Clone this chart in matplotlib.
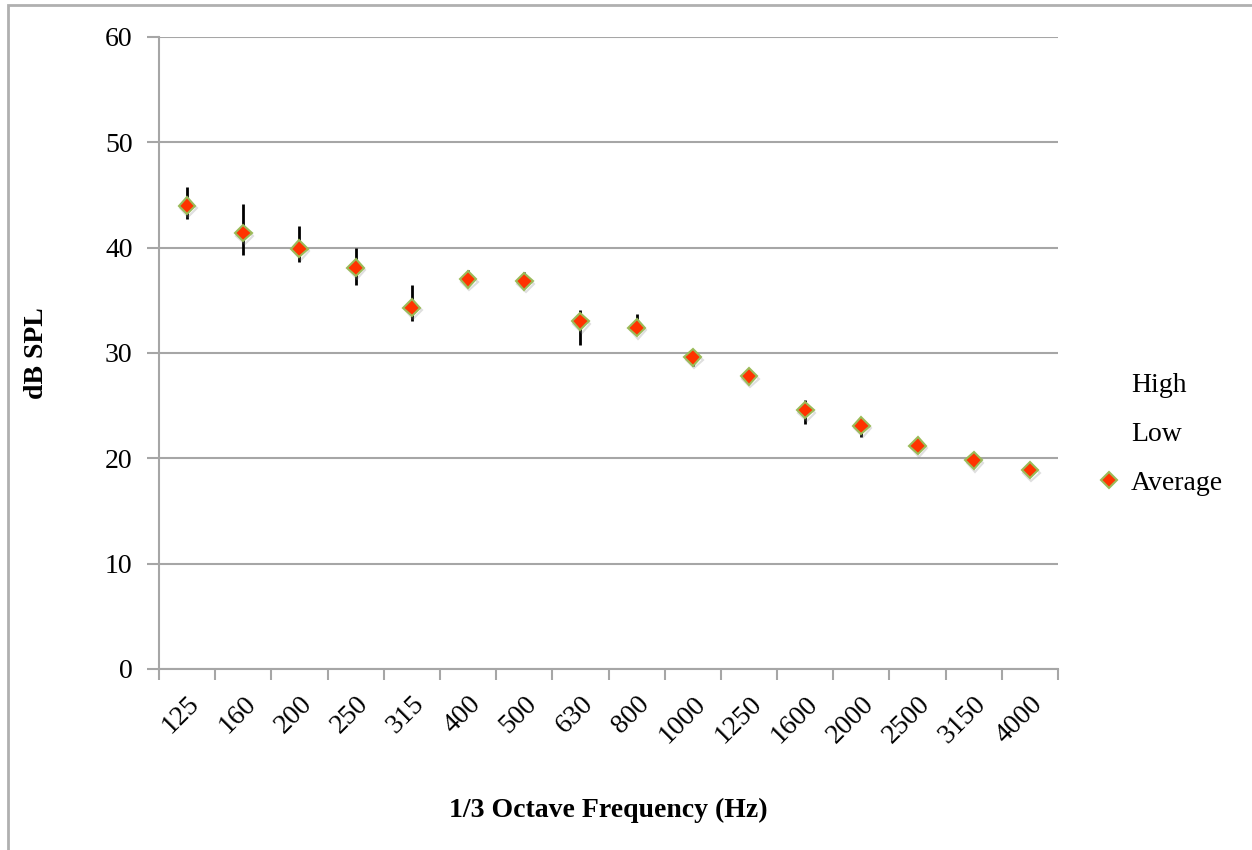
import matplotlib.pyplot as plt
import matplotlib.patheffects as pe
from matplotlib.lines import Line2D
from matplotlib.patches import Rectangle

# 1/3 octave band centre frequencies
freqs = ["125", "160", "200", "250", "315", "400", "500", "630",
         "800", "1000", "1250", "1600", "2000", "2500", "3150", "4000"]
average = [44.0, 41.4, 39.9, 38.1, 34.3, 37.0, 36.8, 33.0,
           32.4, 29.6, 27.8, 24.6, 23.1, 21.2, 19.8, 18.9]
high = [45.8, 44.1, 42.1, 40.0, 36.5, 37.9, 37.7, 34.1,
        33.7, 30.0, 28.1, 25.5, 23.8, 21.5, 20.1, 19.2]
low = [42.7, 39.3, 38.6, 36.5, 33.0, 36.6, 36.4, 30.8,
       31.9, 28.8, 27.5, 23.3, 22.0, 20.9, 19.5, 18.6]

plt.rcParams["font.family"] = ["Liberation Serif", "DejaVu Serif"]
plt.rcParams["font.size"] = 20

fig = plt.figure(figsize=(12.52, 8.5), dpi=100)
fig.patches.append(Rectangle((8 / 1252, -0.1), 1.2, 0.1 + 1 - 5 / 850,
                             transform=fig.transFigure, fill=False,
                             edgecolor="#b0b0b0", linewidth=2))
ax = fig.add_axes([159 / 1252, 1 - 669 / 850, (1058 - 159) / 1252, (669 - 37) / 850])

x = list(range(len(freqs)))
gray = "#a6a6a6"

ax.vlines(x, low, high, color="black", linewidth=2, zorder=2)
shadow = [pe.SimpleLineShadow(offset=(1, -2), shadow_color="gray", alpha=0.25), pe.Normal()]
ax.plot(x, average, linestyle="none", marker="D", markersize=8.5,
        markerfacecolor="#ff3300", markeredgecolor="#9bbb59",
        markeredgewidth=1.5, zorder=3, path_effects=shadow)

ax.set_xlim(-0.5, len(freqs) - 0.5)
ax.set_ylim(0, 60)
ax.set_yticks(range(0, 61, 10))
ax.yaxis.grid(True, color=gray, linewidth=1.5)
ax.set_axisbelow(True)

ax.set_xticks(x)
ax.set_xticklabels(freqs, rotation=45, ha="right", rotation_mode="anchor")
ax.set_xticks([i - 0.5 for i in range(len(freqs) + 1)], minor=True)
ax.tick_params(axis="x", which="major", length=0, pad=16)
ax.tick_params(axis="x", which="minor", length=8, color=gray, width=1.5, direction="out")
ax.tick_params(axis="y", length=9, color=gray, width=1.5, pad=10)

for side in ["top", "right"]:
    ax.spines[side].set_visible(False)
for side in ["left", "bottom"]:
    ax.spines[side].set_color(gray)
    ax.spines[side].set_linewidth(1.5)

ax.set_xlabel("1/3 Octave Frequency (Hz)", fontweight="bold", labelpad=36)
ax.set_ylabel("dB SPL", fontweight="bold", labelpad=40)

handles = [
    Line2D([], [], linestyle="none"),
    Line2D([], [], linestyle="none"),
    Line2D([], [], linestyle="none", marker="D", markersize=8.5,
           markerfacecolor="#ff3300", markeredgecolor="#9bbb59", markeredgewidth=1.5),
]
fig.legend(handles, ["High", "Low", "Average"], frameon=False,
           loc="center left", bbox_to_anchor=(1070 / 1252, 1 - 434 / 850),
           labelspacing=0.85, handlelength=1.0, handletextpad=0.3)

fig.savefig("out.png", dpi=100)
